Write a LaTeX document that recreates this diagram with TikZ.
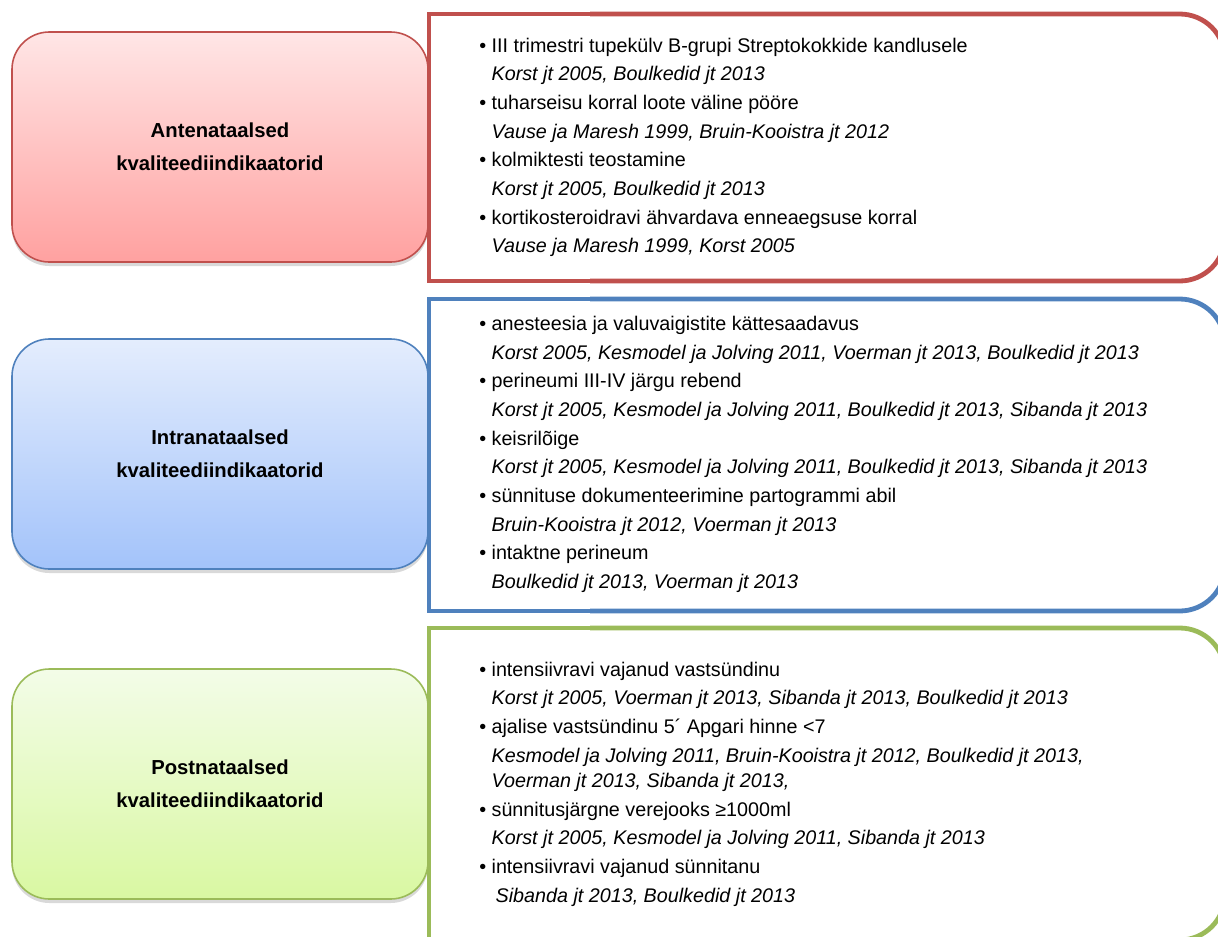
\documentclass[tikz,border=0pt]{standalone}
\usepackage{fontspec}
\setmainfont{Liberation Sans}
\usetikzlibrary{shadows}

\definecolor{anteline}{RGB}{192,80,77}
\definecolor{antetop}{RGB}{255,230,230}
\definecolor{antebot}{RGB}{255,161,160}
\definecolor{intraline}{RGB}{79,129,189}
\definecolor{intratop}{RGB}{228,237,253}
\definecolor{intrabot}{RGB}{163,195,250}
\definecolor{postline}{RGB}{155,187,89}
\definecolor{posttop}{RGB}{243,252,232}
\definecolor{postbot}{RGB}{217,248,162}

\newcommand{\indic}[1]{\textbullet\ #1}
\newcommand{\sources}[1]{\phantom{\textbullet\ }\textit{#1}}

\tikzset{
  phasebox/.style={draw=#1line, line width=1.2pt, rounded corners=28pt,
    minimum width=312pt, minimum height=172.5pt, inner sep=0pt,
    top color=#1top, bottom color=#1bot, align=center,
    font=\bfseries\fontsize{15.2}{24.75}\selectfont,
    drop shadow={shadow xshift=0pt, shadow yshift=-3pt, opacity=0.3}},
  listframe/.style={draw=#1line, line width=3.6pt},
  itemlist/.style={anchor=west, align=left, inner sep=0pt,
    font=\fontsize{14.8}{21.5}\selectfont}
}

\begin{document}
\begin{tikzpicture}[x=0.75pt,y=-0.75pt]
  \useasboundingbox (0,0) rectangle (1218,936);
  \clip (0,0) rectangle (1218,936);

  \node[phasebox=ante] (ante) at (220,147) {Antenataalsed\\kvaliteediindikaatorid};
  \node[phasebox=intra] (intra) at (220,454) {Intranataalsed\\kvaliteediindikaatorid};
  \node[phasebox=post] (post) at (220,784) {Postnataalsed\\kvaliteediindikaatorid};

  \draw[listframe=ante] (600,281) -- (429,281) -- (429,14) -- (600,14);
  \draw[listframe=ante, rounded corners=34pt] (590,14) -- (1225,14) -- (1225,281) -- (590,281);
  \draw[listframe=intra] (600,611) -- (429,611) -- (429,299) -- (600,299);
  \draw[listframe=intra, rounded corners=34pt] (590,299) -- (1225,299) -- (1225,611) -- (590,611);
  \draw[listframe=post] (600,940) -- (429,940) -- (429,628) -- (600,628);
  \draw[listframe=post, rounded corners=34pt] (590,628) -- (1225,628) -- (1225,940) -- (590,940);

  \node[itemlist] (antelist) at (479,147.5) {%
    \indic{III trimestri tupekülv B-grupi Streptokokkide kandlusele}\\
    \sources{Korst jt 2005, Boulkedid jt 2013}\\
    \indic{tuharseisu korral loote väline pööre}\\
    \sources{Vause ja Maresh 1999, Bruin-Kooistra jt 2012}\\
    \indic{kolmiktesti teostamine}\\
    \sources{Korst jt 2005, Boulkedid jt 2013}\\
    \indic{kortikosteroidravi ähvardava enneaegsuse korral}\\
    \sources{Vause ja Maresh 1999, Korst 2005}};

  \node[itemlist] (intralist) at (479,454.5) {%
    \indic{anesteesia ja valuvaigistite kättesaadavus}\\
    \sources{Korst 2005, Kesmodel ja Jolving 2011, Voerman jt 2013, Boulkedid jt 2013}\\
    \indic{perineumi III-IV järgu rebend}\\
    \sources{Korst jt 2005, Kesmodel ja Jolving 2011, Boulkedid jt 2013, Sibanda jt 2013}\\
    \indic{keisrilõige}\\
    \sources{Korst jt 2005, Kesmodel ja Jolving 2011, Boulkedid jt 2013, Sibanda jt 2013}\\
    \indic{sünnituse dokumenteerimine partogrammi abil}\\
    \sources{Bruin-Kooistra jt 2012, Voerman jt 2013}\\
    \indic{intaktne perineum}\\
    \sources{Boulkedid jt 2013, Voerman jt 2013}};

  \node[itemlist] (postlist) at (479,784) {%
    \indic{intensiivravi vajanud vastsündinu}\\
    \sources{Korst jt 2005, Voerman jt 2013, Sibanda jt 2013, Boulkedid jt 2013}\\
    \indic{ajalise vastsündinu 5´ Apgari hinne <7}\\
    \sources{Kesmodel ja Jolving 2011, Bruin-Kooistra jt 2012, Boulkedid jt 2013,}\\[-2.5pt]
    \sources{Voerman jt 2013, Sibanda jt 2013,}\\
    \indic{sünnitusjärgne verejooks ≥1000ml}\\
    \sources{Korst jt 2005, Kesmodel ja Jolving 2011, Sibanda jt 2013}\\
    \indic{intensiivravi vajanud sünnitanu}\\
    \sources{\hspace{3pt}Sibanda jt 2013, Boulkedid jt 2013}};
\end{tikzpicture}
\end{document}
